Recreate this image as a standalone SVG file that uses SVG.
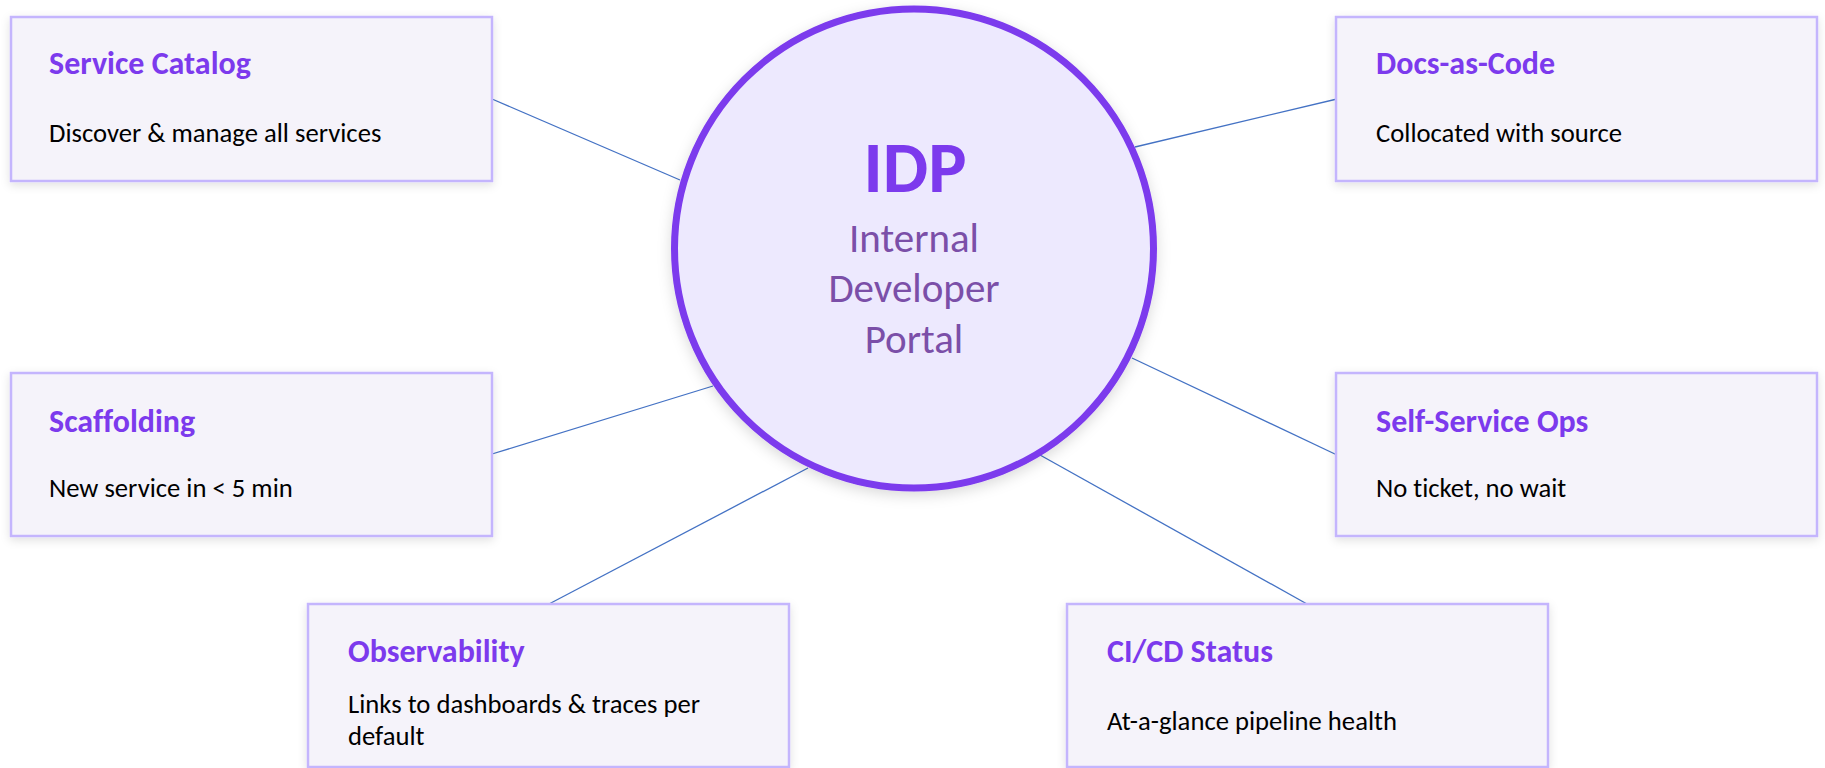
<svg xmlns="http://www.w3.org/2000/svg" width="1825" height="768" viewBox="0 0 1825 768">
  <defs>
    <filter id="shadow" x="-10%" y="-10%" width="120%" height="130%">
      <feDropShadow dx="0" dy="3" stdDeviation="5" flood-color="#000" flood-opacity="0.12"/>
    </filter>
    <filter id="hubShadow" x="-10%" y="-10%" width="120%" height="125%">
      <feDropShadow dx="0" dy="4" stdDeviation="7" flood-color="#000" flood-opacity="0.15"/>
    </filter>
    <style>
      text { font-variant-ligatures: none; font-feature-settings: "liga" 0; }
      .card { fill: #F5F3FA; stroke: #C4B5FD; stroke-width: 2.5; filter: url(#shadow); }
      .title { font-family: Carlito, Calibri, Lato, "Open Sans", sans-serif; font-weight: 700; font-size: 32px; fill: #7C3AED; }
      .desc { font-family: Carlito, Calibri, Lato, "Open Sans", sans-serif; font-size: 26.67px; fill: #000; }
      .link { stroke: #4472C4; stroke-width: 1.3; fill: none; }
      .hub { fill: #EDE9FE; stroke: #7C3AED; stroke-width: 7; filter: url(#hubShadow); }
      .hubTitle { font-family: Carlito, Calibri, Lato, "Open Sans", sans-serif; font-weight: 700; font-size: 72px; fill: #7C3AED; text-anchor: middle; }
      .hubSub { font-family: Carlito, Calibri, Lato, "Open Sans", sans-serif; font-size: 41px; fill: #7B4FA8; text-anchor: middle; }
    </style>
  </defs>

  <rect width="1825" height="768" fill="#FFFFFF"/>

  <!-- spokes from the portal hub to each capability card -->
  <g id="connectors">
    <line class="link" x1="492" y1="99" x2="680" y2="180"/>
    <line class="link" x1="1135" y1="147" x2="1337" y2="99"/>
    <line class="link" x1="492" y1="454" x2="713" y2="386"/>
    <line class="link" x1="1132" y1="358" x2="1337" y2="455"/>
    <line class="link" x1="808" y1="468" x2="549" y2="604"/>
    <line class="link" x1="1040" y1="455" x2="1307" y2="604"/>
  </g>

  <g id="service-catalog">
    <rect class="card" x="11" y="17" width="481" height="164"/>
    <text class="title" x="49" y="74">Service Catalog</text>
    <text class="desc" x="49" y="142">Discover &amp; manage all services</text>
  </g>

  <g id="docs-as-code">
    <rect class="card" x="1336" y="17" width="481" height="164"/>
    <text class="title" x="1376" y="74">Docs-as-Code</text>
    <text class="desc" x="1376" y="142">Collocated with source</text>
  </g>

  <g id="scaffolding">
    <rect class="card" x="11" y="373" width="481" height="163"/>
    <text class="title" x="49" y="432">Scaffolding</text>
    <text class="desc" x="49" y="497">New service in &lt; 5 min</text>
  </g>

  <g id="self-service-ops">
    <rect class="card" x="1336" y="373" width="481" height="163"/>
    <text class="title" x="1376" y="432">Self-Service Ops</text>
    <text class="desc" x="1376" y="497">No ticket, no wait</text>
  </g>

  <g id="observability">
    <rect class="card" x="308" y="604" width="481" height="163"/>
    <text class="title" x="348" y="662">Observability</text>
    <text class="desc" x="348" y="713">Links to dashboards &amp; traces per</text>
    <text class="desc" x="348" y="745">default</text>
  </g>

  <g id="cicd-status">
    <rect class="card" x="1067" y="604" width="481" height="163"/>
    <text class="title" x="1107" y="662">CI/CD Status</text>
    <text class="desc" x="1107" y="730">At-a-glance pipeline health</text>
  </g>

  <g id="idp-hub">
    <circle class="hub" cx="914" cy="248.5" r="239.5"/>
    <text class="hubTitle" x="915" y="192">IDP</text>
    <text class="hubSub" x="914" y="252">Internal</text>
    <text class="hubSub" x="914" y="302">Developer</text>
    <text class="hubSub" x="914" y="353">Portal</text>
  </g>
</svg>
